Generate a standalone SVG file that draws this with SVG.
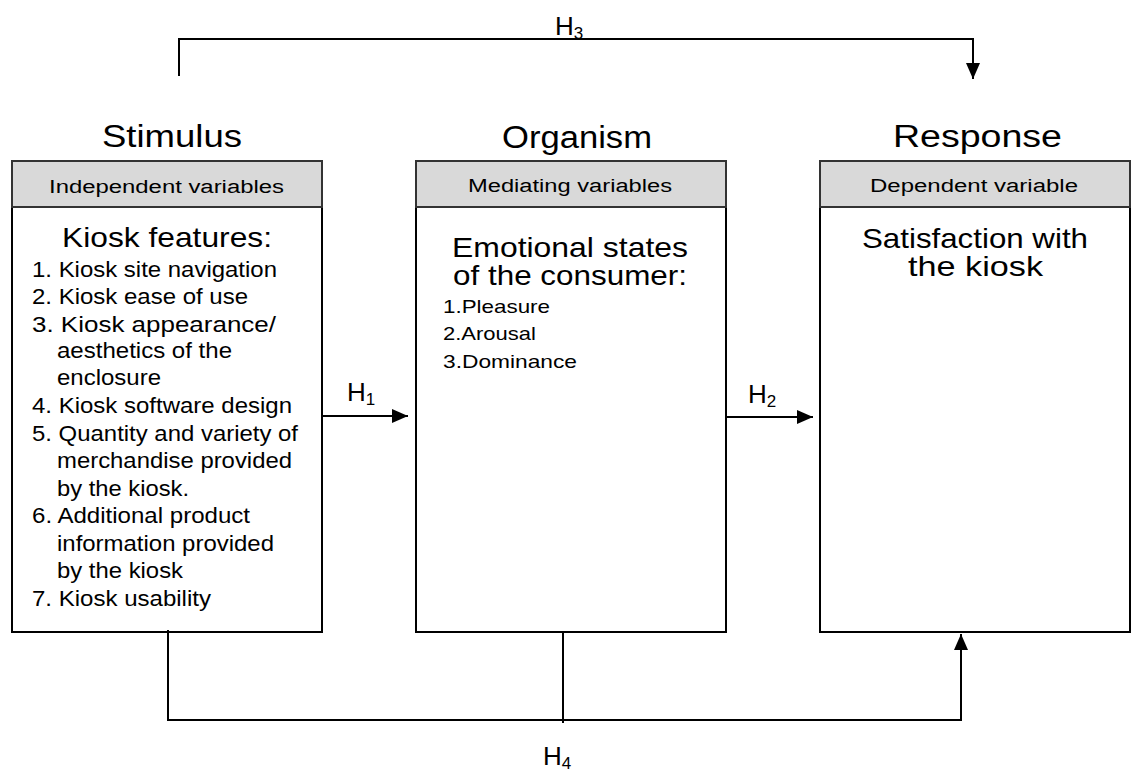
<svg xmlns="http://www.w3.org/2000/svg" width="1131" height="776" viewBox="0 0 1131 776">
<style>
text{font-family:"Liberation Sans",Arial,sans-serif;fill:#000}
.box{fill:#fff;stroke:#000;stroke-width:2}
.hdr{fill:#d9d9d9;stroke:#333;stroke-width:2}
.title{font-size:31px}
.head{font-size:18px}
.big{font-size:28px}
.item{font-size:22.5px}
.item2{font-size:19px}
.lbl{font-size:26px}
.sub{font-size:17px}
.conn{fill:none;stroke:#000;stroke-width:2}
</style>
<defs>
<marker id="arr" markerUnits="userSpaceOnUse" markerWidth="16" markerHeight="14" refX="16" refY="7" orient="auto">
<path d="M0,0 L16,7 L0,14 z" fill="#000"/>
</marker>
</defs>

<g id="stimulus">
<text class="title" x="102" y="147" textLength="140" lengthAdjust="spacingAndGlyphs">Stimulus</text>
<rect class="box" x="12" y="161" width="310" height="471"/>
<rect class="hdr" x="12" y="161" width="310" height="46"/>
<text class="head" x="49" y="193" textLength="235" lengthAdjust="spacingAndGlyphs">Independent variables</text>
<text class="big" x="62" y="247" textLength="210" lengthAdjust="spacingAndGlyphs">Kiosk features:</text>
<text class="item" x="32" y="277" textLength="245" lengthAdjust="spacingAndGlyphs">1. Kiosk site navigation</text>
<text class="item" x="32" y="304" textLength="216" lengthAdjust="spacingAndGlyphs">2. Kiosk ease of use</text>
<text class="item" x="32" y="332" textLength="244" lengthAdjust="spacingAndGlyphs">3. Kiosk appearance/</text>
<text class="item" x="57" y="358" textLength="175" lengthAdjust="spacingAndGlyphs">aesthetics of the</text>
<text class="item" x="57" y="385" textLength="104" lengthAdjust="spacingAndGlyphs">enclosure</text>
<text class="item" x="32" y="413" textLength="260" lengthAdjust="spacingAndGlyphs">4. Kiosk software design</text>
<text class="item" x="32" y="441" textLength="266" lengthAdjust="spacingAndGlyphs">5. Quantity and variety of</text>
<text class="item" x="57" y="468" textLength="235" lengthAdjust="spacingAndGlyphs">merchandise provided</text>
<text class="item" x="57" y="496" textLength="132" lengthAdjust="spacingAndGlyphs">by the kiosk.</text>
<text class="item" x="32" y="523" textLength="218" lengthAdjust="spacingAndGlyphs">6. Additional product</text>
<text class="item" x="57" y="551" textLength="217" lengthAdjust="spacingAndGlyphs">information provided</text>
<text class="item" x="57" y="578" textLength="126" lengthAdjust="spacingAndGlyphs">by the kiosk</text>
<text class="item" x="32" y="606" textLength="179" lengthAdjust="spacingAndGlyphs">7. Kiosk usability</text>
</g>

<g id="organism">
<text class="title" x="502" y="148" textLength="150" lengthAdjust="spacingAndGlyphs">Organism</text>
<rect class="box" x="416" y="161" width="310" height="471"/>
<rect class="hdr" x="416" y="161" width="310" height="46"/>
<text class="head" x="468" y="192" textLength="204" lengthAdjust="spacingAndGlyphs">Mediating variables</text>
<text class="big" x="452" y="257" textLength="236" lengthAdjust="spacingAndGlyphs">Emotional states</text>
<text class="big" x="453" y="285" textLength="234" lengthAdjust="spacingAndGlyphs">of the consumer:</text>
<text class="item2" x="443" y="313" textLength="107" lengthAdjust="spacingAndGlyphs">1.Pleasure</text>
<text class="item2" x="443" y="340" textLength="93" lengthAdjust="spacingAndGlyphs">2.Arousal</text>
<text class="item2" x="443" y="368" textLength="134" lengthAdjust="spacingAndGlyphs">3.Dominance</text>
</g>

<g id="response">
<text class="title" x="893" y="147" textLength="169" lengthAdjust="spacingAndGlyphs">Response</text>
<rect class="box" x="820" y="161" width="310" height="471"/>
<rect class="hdr" x="820" y="161" width="310" height="46"/>
<text class="head" x="870" y="192" textLength="208" lengthAdjust="spacingAndGlyphs">Dependent variable</text>
<text class="big" x="862" y="248" textLength="226" lengthAdjust="spacingAndGlyphs">Satisfaction with</text>
<text class="big" x="908" y="276" textLength="135" lengthAdjust="spacingAndGlyphs">the kiosk</text>
</g>

<g id="connectors">
<line class="conn" x1="322" y1="416" x2="408" y2="416" marker-end="url(#arr)"/>
<text class="lbl" x="347" y="401">H<tspan class="sub" dy="4">1</tspan></text>
<line class="conn" x1="726" y1="417" x2="813" y2="417" marker-end="url(#arr)"/>
<text class="lbl" x="748" y="403">H<tspan class="sub" dy="4">2</tspan></text>
<polyline class="conn" points="179,76 179,39 973,39 973,79" marker-end="url(#arr)"/>
<text class="lbl" x="555" y="35">H<tspan class="sub" dy="4">3</tspan></text>
<polyline class="conn" points="168,630 168,720 961,720 961,634" marker-end="url(#arr)"/>
<line class="conn" x1="563" y1="632" x2="563" y2="723"/>
<text class="lbl" x="543" y="765">H<tspan class="sub" dy="4">4</tspan></text>
</g>
</svg>
